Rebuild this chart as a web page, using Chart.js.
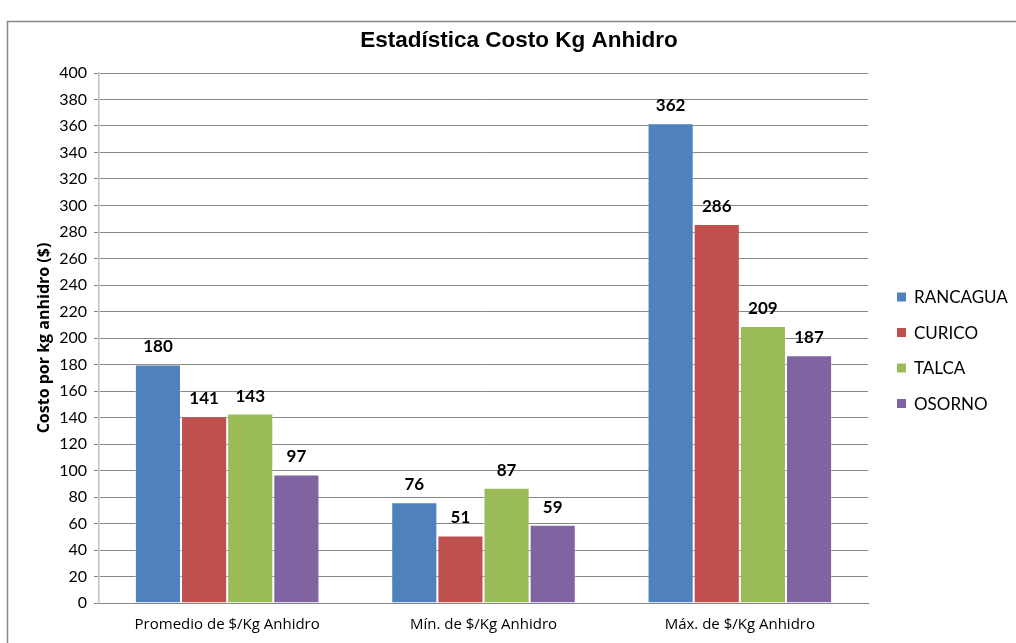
<!DOCTYPE html>
<html>
<head>
<meta charset="utf-8">
<title>Estadística Costo Kg Anhidro</title>
<script src="https://cdn.jsdelivr.net/npm/chart.js@4.4.0/dist/chart.umd.min.js"></script>
<style>
  html, body { margin: 0; padding: 0; background: #fff; }
  #wrap { width: 1016px; height: 643px; }
</style>
</head>
<body>
<div id="wrap"><canvas id="chart" width="1016" height="643"></canvas></div>
<script>
// Categories and series values
var categories = ['Promedio de $/Kg Anhidro', 'Mín. de $/Kg Anhidro', 'Máx. de $/Kg Anhidro'];
var rancagua = [180, 76, 362];
var curico = [141, 51, 286];
var talca = [143, 87, 209];
var osorno = [97, 59, 187];
var seriesNames = ['RANCAGUA', 'CURICO', 'TALCA', 'OSORNO'];
var seriesColors = ['#4F81BD', '#C0504D', '#9BBB59', '#8064A2'];
var chartTitle = 'Estadística Costo Kg Anhidro';

var bodyFont = 'Lato, "Open Sans", sans-serif';
var axisFont = '"Open Sans", "Noto Sans", sans-serif';

// white background, outer frame and centred title
var framePlugin = {
    id: 'frame',
    beforeDraw: function (chart) {
        var ctx = chart.ctx;
        ctx.save();
        ctx.fillStyle = '#fff';
        ctx.fillRect(0, 0, chart.width, chart.height);
        ctx.strokeStyle = '#868686';
        ctx.lineWidth = 1.5;
        ctx.strokeRect(7.5, 21.5, chart.width + 10, chart.height + 10);
        ctx.font = 'bold 22.5px "Liberation Sans", Arial, sans-serif';
        ctx.fillStyle = '#000';
        ctx.textAlign = 'center';
        ctx.textBaseline = 'middle';
        ctx.fillText(chartTitle, 519, 41);
        ctx.restore();
    }
};

// value labels above each bar
var valueLabels = {
    id: 'valueLabels',
    afterDatasetsDraw: function (chart) {
        var ctx = chart.ctx;
        ctx.save();
        ctx.font = 'bold 17px ' + bodyFont;
        ctx.fillStyle = '#000';
        ctx.textAlign = 'center';
        ctx.textBaseline = 'bottom';
        chart.data.datasets.forEach(function (ds, i) {
            chart.getDatasetMeta(i).data.forEach(function (bar, j) {
                ctx.fillText(ds.data[j], bar.x, bar.y - 9);
            });
        });
        ctx.restore();
    }
};

// legend on the right side
var sideLegend = {
    id: 'sideLegend',
    afterDraw: function (chart) {
        var ctx = chart.ctx;
        var step = 35.5;
        var y0 = 297;
        ctx.save();
        ctx.font = '17px ' + bodyFont;
        ctx.textBaseline = 'middle';
        ctx.textAlign = 'left';
        chart.data.datasets.forEach(function (ds, i) {
            var y = y0 + i * step;
            ctx.fillStyle = ds.backgroundColor;
            ctx.fillRect(897, y - 4.5, 9, 9);
            ctx.fillStyle = '#000';
            ctx.fillText(ds.label, 914, y + 1);
        });
        ctx.restore();
    }
};

var seriesData = [rancagua, curico, talca, osorno];

new Chart(document.getElementById('chart').getContext('2d'), {
    type: 'bar',
    data: {
        labels: categories,
        datasets: seriesData.map(function (values, i) {
            return {
                label: seriesNames[i],
                data: values,
                backgroundColor: seriesColors[i],
                borderColor: 'rgba(255,255,255,0.35)',
                borderWidth: 1,
                categoryPercentage: 0.72,
                barPercentage: 1
            };
        })
    },
    options: {
        responsive: false,
        animation: false,
        layout: {
            padding: { left: 0, right: 1016 - 868, top: 73, bottom: 0 }
        },
        scales: {
            x: {
                grid: { display: false, drawTicks: false },
                border: { color: '#868686', width: 1 },
                ticks: {
                    color: '#000',
                    font: { family: axisFont, size: 15 },
                    padding: 13,
                    maxRotation: 0
                },
                afterFit: function (s) { s.height = 40; }
            },
            y: {
                min: 0,
                max: 400,
                ticks: {
                    stepSize: 20,
                    color: '#000',
                    font: { family: bodyFont, size: 16 },
                    padding: 7
                },
                grid: {
                    color: '#868686',
                    lineWidth: 1,
                    tickLength: 5,
                    tickColor: '#868686'
                },
                border: { color: '#BFBFBF', width: 1.5 },
                title: {
                    display: true,
                    text: 'Costo por kg anhidro ($)',
                    color: '#000',
                    font: { family: axisFont, size: 16, weight: 'bold' },
                    padding: { top: 35, bottom: 0 }
                },
                afterFit: function (s) { s.width = 99; }
            }
        },
        plugins: {
            legend: { display: false },
            tooltip: { enabled: false },
            title: { display: false }
        }
    },
    plugins: [framePlugin, valueLabels, sideLegend]
});
</script>
</body>
</html>
